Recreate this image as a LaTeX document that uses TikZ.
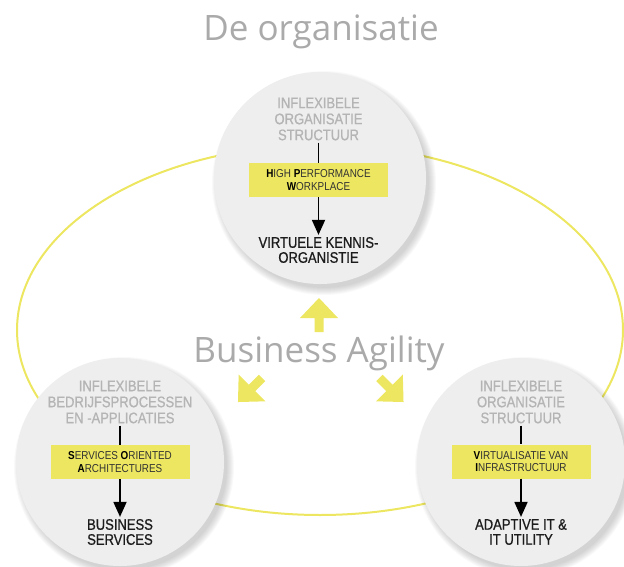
\documentclass[tikz,border=0pt]{standalone}
\usepackage{fontspec}
\setmainfont{Liberation Sans}
\newfontfamily\condfont[FakeStretch=0.85,FakeBold=0.8]{Liberation Sans}
\newfontfamily\boxfont[FakeStretch=0.86]{Liberation Sans}
\newfontfamily\titlefont{Open Sans}
\usetikzlibrary{arrows.meta}
\definecolor{ylw}{RGB}{236,230,96}
\definecolor{circfill}{RGB}{238,238,238}
\definecolor{hdrgray}{RGB}{180,180,180}
\definecolor{titlegray}{RGB}{170,170,170}
\definecolor{txtdark}{RGB}{28,28,28}
\definecolor{boxtxt}{RGB}{50,50,50}
\begin{document}
\begin{tikzpicture}[x=1pt,y=-1pt,
  disc/.style={circle, fill=circfill, minimum size=#1, inner sep=0},
  hdr/.style={align=center, text=hdrgray, font=\condfont\fontsize{15.3}{16}\selectfont, inner sep=2pt},
  ybox/.style={fill=ylw, minimum width=139pt, minimum height=34pt, inner sep=0, align=center, text=boxtxt, font=\boxfont\fontsize{11.5}{12.5}\selectfont},
  res/.style={align=center, text=txtdark, font=\condfont\fontsize{15.3}{15}\selectfont, inner sep=2pt},
  link/.style={line width=1.8pt, black},
  linkarr/.style={link, -{Triangle[width=13pt,length=15pt]}},
  bigtitle/.style={text=titlegray, font=\titlefont\fontsize{35}{40}\selectfont, inner sep=0},
  yarrow/.pic={\fill[ylw] (0,-17) -- (19,3) -- (4.5,3) -- (4.5,17) -- (-4.5,17) -- (-4.5,3) -- (-19,3) -- cycle;},
  shadowdisc/.style={black, opacity=0.022},
]
\useasboundingbox (0,0) rectangle (624,567);

% yellow ellipse
\draw[ylw, line width=2pt] (320,330) ellipse [x radius=303, y radius=185];

% shadows
\foreach \cx/\cy/\r in {320/178/106, 120/462/104, 521/462/104}{
  \foreach \k in {1,...,8}{
    \fill[shadowdisc] (\cx+4,\cy+5) circle [radius=\r-2+\k];
  }
}

% discs
\node[disc=212pt] (c1) at (320,178) {};
\node[disc=208pt] (c2) at (120,462) {};
\node[disc=208pt] (c3) at (521,462) {};

% title texts
\node[bigtitle, anchor=base] (title) at (321,41) {De organisatie};
\node[bigtitle, anchor=base] (agility) at (319,362) {Business Agility};

% yellow arrows
\pic[rotate=0] at (319,315) {yarrow};
\pic[rotate=135] at (250,390) {yarrow};
\pic[rotate=-135] at (391.5,390) {yarrow};

% top circle
\node[hdr] (h1) at (318.5,119) {INFLEXIBELE\\ORGANISATIE\\STRUCTUUR};
\node[ybox] (b1) at (318.5,180) {\textbf{\color{black}H}IGH \textbf{\color{black}P}ERFORMANCE\\\textbf{\color{black}W}ORKPLACE};
\node[res] (r1) at (318.5,250) {VIRTUELE KENNIS-\\ORGANISTIE};
\draw[link] (b1.north |- h1.south) -- (b1.north);
\draw[linkarr] (b1.south) -- (r1.north);

% bottom-left circle
\node[hdr] (h2) at (120,402) {INFLEXIBELE\\BEDRIJFSPROCESSEN\\EN -APPLICATIES};
\node[ybox] (b2) at (120,462) {\textbf{\color{black}S}ERVICES \textbf{\color{black}O}RIENTED\\\textbf{\color{black}A}RCHITECTURES};
\node[res] (r2) at (120,532) {BUSINESS\\SERVICES};
\draw[link] (b2.north |- h2.south) -- (b2.north);
\draw[linkarr] (b2.south) -- (r2.north);

% bottom-right circle
\node[hdr] (h3) at (521,402) {INFLEXIBELE\\ORGANISATIE\\STRUCTUUR};
\node[ybox] (b3) at (521,461.5) {\textbf{\color{black}V}IRTUALISATIE VAN\\\textbf{\color{black}I}NFRASTRUCTUUR};
\node[res] (r3) at (521,532) {ADAPTIVE IT \&\\IT UTILITY};
\draw[link] (b3.north |- h3.south) -- (b3.north);
\draw[linkarr] (b3.south) -- (r3.north);
\end{tikzpicture}
\end{document}
